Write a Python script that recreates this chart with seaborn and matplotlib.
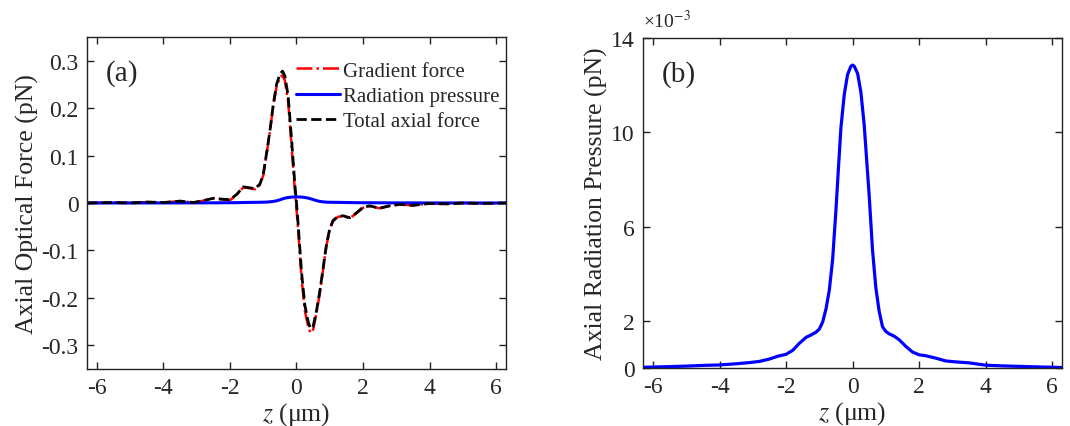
import numpy as np
import pandas as pd
import matplotlib
matplotlib.use("Agg")
import matplotlib.pyplot as plt
import seaborn as sns

# ---- data ----
z_um = [-6.3, -5.5, -5.0, -4.5, -4.0, -3.5, -3.1, -2.8, -2.5, -2.25, -2.0, -1.8, -1.6, -1.4,
        -1.25, -1.1, -1.0, -0.9, -0.8, -0.7, -0.6, -0.5, -0.42, -0.35, -0.25, -0.15, -0.05,
        0.0, 0.05, 0.15, 0.25, 0.35, 0.42, 0.5, 0.6, 0.7, 0.8, 0.9, 1.0, 1.1, 1.25, 1.4,
        1.6, 1.8, 2.0, 2.2, 2.5, 2.8, 3.1, 3.5, 4.0, 4.5, 5.0, 5.5, 6.3]

total_force = [0.0, 0.001, 0.0, 0.002, 0.001, 0.004, 0.001, 0.005, 0.010, 0.008, 0.007, 0.018,
               0.034, 0.032, 0.030, 0.040, 0.060, 0.105, 0.152, 0.207, 0.250, 0.272, 0.278,
               0.268, 0.225, 0.135, 0.040, 0.000, -0.045, -0.145, -0.215, -0.250, -0.265,
               -0.260, -0.228, -0.187, -0.138, -0.088, -0.054, -0.037, -0.028, -0.027,
               -0.031, -0.021, -0.009, -0.006, -0.011, -0.006, -0.003, -0.005, -0.001,
               -0.002, 0.0, -0.001, 0.0]

gradient_force = [0.0, 0.001, 0.0, 0.002, 0.001, 0.004, 0.001, 0.005, 0.010, 0.008, 0.006, 0.017,
                  0.033, 0.031, 0.029, 0.038, 0.058, 0.103, 0.150, 0.204, 0.245, 0.265, 0.269,
                  0.258, 0.213, 0.122, 0.027, -0.013, -0.058, -0.157, -0.227, -0.260, -0.274,
                  -0.267, -0.233, -0.190, -0.140, -0.090, -0.056, -0.038, -0.029, -0.028,
                  -0.032, -0.022, -0.010, -0.007, -0.011, -0.006, -0.003, -0.005, -0.001,
                  -0.002, 0.0, -0.001, 0.0]

# radiation pressure in units of 1e-3 pN
radiation_e3 = [0.03, 0.06, 0.08, 0.11, 0.13, 0.18, 0.23, 0.28, 0.38, 0.50, 0.58, 0.75, 1.05,
                1.30, 1.40, 1.52, 1.65, 1.95, 2.5, 3.3, 4.6, 6.7, 8.6, 10.2, 11.6, 12.45, 12.8,
                12.85, 12.8, 12.5, 11.7, 10.3, 8.9, 7.3, 5.0, 3.4, 2.4, 1.75, 1.55, 1.45, 1.35,
                1.2, 0.92, 0.68, 0.56, 0.52, 0.42, 0.30, 0.26, 0.22, 0.12, 0.09, 0.07, 0.05,
                0.02]

xticks = [-6, -4, -2, 0, 2, 4, 6]
yticks_a = [-0.3, -0.2, -0.1, 0, 0.1, 0.2, 0.3]
yticklabels_a = ["-0.3", "-0.2", "-0.1", "0", "0.1", "0.2", "0.3"]
yticks_b = [0, 2, 6, 10, 14]

df = pd.DataFrame({"z": z_um, "grad": gradient_force, "total": total_force,
                   "rad_e3": radiation_e3})
df["rad"] = df["rad_e3"] * 1e-3

# ---- style ----
sns.set_theme(style="ticks")
plt.rcParams["font.family"] = ["Liberation Serif", "DejaVu Serif"]
plt.rcParams["mathtext.fontset"] = "stix"
plt.rcParams["axes.edgecolor"] = "#222222"
plt.rcParams["axes.linewidth"] = 1.0

fig = plt.figure(figsize=(10.7, 4.27), dpi=100)
ax1 = fig.add_axes([0.0813, 0.1335, 0.3916, 0.7775])
ax2 = fig.add_axes([0.601, 0.1358, 0.3916, 0.773])

tfs = 17
lfs = 18.5

# panel (a)
sns.lineplot(data=df, x="z", y="grad", ax=ax1, color="#ff0000", linestyle="-.",
             linewidth=1.8, label="Gradient force", sort=False)
sns.lineplot(data=df, x="z", y="rad", ax=ax1, color="#0000ff", linestyle="-",
             linewidth=2.2, label="Radiation pressure", sort=False)
sns.lineplot(data=df, x="z", y="total", ax=ax1, color="black", linestyle="--",
             linewidth=2.0, label="Total axial force", sort=False)
ax1.set_xlim(-6.3, 6.3)
ax1.set_ylim(-0.35, 0.35)
ax1.set_xticks(xticks)
ax1.set_xticklabels([str(t) for t in xticks])
ax1.set_yticks(yticks_a)
ax1.set_yticklabels(yticklabels_a)
ax1.set_xlabel(r"$z$ (μm)", fontsize=lfs, labelpad=1)
ax1.set_ylabel("Axial Optical Force (pN)", fontsize=lfs, labelpad=2)
leg = ax1.legend(loc="upper right", frameon=False, fontsize=15, handlelength=2.1,
                 handletextpad=0.15, labelspacing=0.27, borderaxespad=0.0,
                 borderpad=0.2, bbox_to_anchor=(0.995, 0.94))
ax1.text(0.045, 0.87, "(a)", transform=ax1.transAxes, fontsize=21)

# panel (b)
sns.lineplot(data=df, x="z", y="rad_e3", ax=ax2, color="#0000ff", linestyle="-",
             linewidth=2.3, sort=False)
ax2.set_xlim(-6.3, 6.3)
ax2.set_ylim(0, 14)
ax2.set_xticks(xticks)
ax2.set_xticklabels([str(t) for t in xticks])
ax2.set_yticks(yticks_b)
ax2.set_yticklabels([str(t) for t in yticks_b])
ax2.set_xlabel(r"$z$ (μm)", fontsize=lfs, labelpad=1)
ax2.set_ylabel("Axial Radiation Pressure (pN)", fontsize=lfs, labelpad=2)
ax2.text(0.045, 0.87, "(b)", transform=ax2.transAxes, fontsize=21)
ax2.text(0.0, 1.02, r"×10$^{-3}$", transform=ax2.transAxes, fontsize=14,
         ha="left", va="bottom")

for ax in (ax1, ax2):
    ax.tick_params(direction="in", top=True, right=True, labelsize=tfs, length=5,
                   width=1.0, pad=6, color="#222222")
    for s in ax.spines.values():
        s.set_visible(True)

fig.savefig("out.png", dpi=100)
